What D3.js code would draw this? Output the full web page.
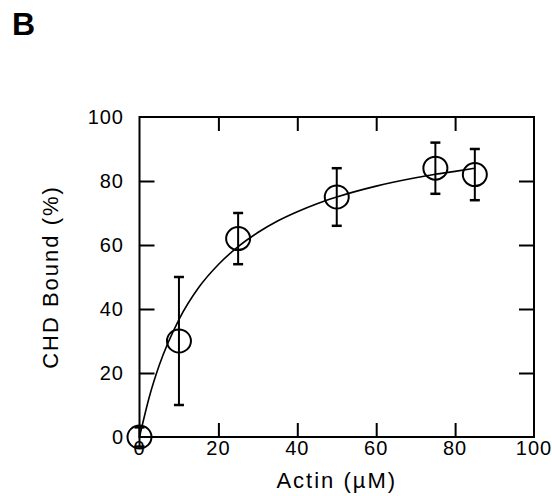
<!DOCTYPE html>
<html>
<head>
<meta charset="utf-8">
<script src="https://cdn.jsdelivr.net/npm/d3@7"></script>
<style>
  body { margin: 0; background: #fff; }
  text { font-family: "Liberation Sans", Arial, sans-serif; fill: #000; }
</style>
</head>
<body>
<div id="chart"></div>
<script>
// measured points (actin uM, % bound, error)
const actin = [0, 10, 25, 50, 75, 85];
const bound = [0, 30, 62, 75, 84, 82];
const errs = [3, 20, 8, 9, 8, 8];

// fitted curve
const fitX = [0, 2.5, 5, 10, 15, 20, 25, 30, 35, 40, 45, 50, 60, 70, 75, 80, 85];
const fitY = [0, 12.6, 22.4, 36.7, 46.7, 53.9, 59.5, 63.9, 67.5, 70.4, 72.9, 75, 78.4, 81, 82.1, 83, 84];

const xTicks = [0, 20, 40, 60, 80, 100];
const yTicks = [0, 20, 40, 60, 80, 100];

const width = 552, height = 496;
const pLeft = 139.5, pRight = 534, pTop = 117, pBottom = 437;

const svg = d3.select("#chart").append("svg")
    .attr("width", width)
    .attr("height", height);

const x = d3.scaleLinear().domain([0, 100]).range([pLeft, pRight]);
const y = d3.scaleLinear().domain([0, 100]).range([pBottom, pTop]);

// panel letter
svg.append("text")
    .attr("x", 12).attr("y", 35)
    .style("font-size", "32px").style("font-weight", "bold")
    .text("B");

// inward ticks on all four sides
const tickLen = 14;
svg.append("g").attr("transform", `translate(0,${pBottom})`)
    .call(d3.axisTop(x).tickValues(xTicks.slice(1, -1)).tickSize(tickLen).tickFormat(""))
    .call(g => g.select(".domain").remove());
svg.append("g").attr("transform", `translate(0,${pTop})`)
    .call(d3.axisBottom(x).tickValues(xTicks.slice(1, -1)).tickSize(tickLen).tickFormat(""))
    .call(g => g.select(".domain").remove());
svg.append("g").attr("transform", `translate(${pLeft},0)`)
    .call(d3.axisRight(y).tickValues(yTicks.slice(1, -1)).tickSize(tickLen + 1).tickFormat(""))
    .call(g => g.select(".domain").remove());
svg.append("g").attr("transform", `translate(${pRight},0)`)
    .call(d3.axisLeft(y).tickValues(yTicks.slice(1, -1)).tickSize(tickLen + 1).tickFormat(""))
    .call(g => g.select(".domain").remove());
svg.selectAll(".tick line").attr("stroke", "#000").attr("stroke-width", 2);

// frame
svg.append("rect")
    .attr("x", pLeft).attr("y", pTop)
    .attr("width", pRight - pLeft).attr("height", pBottom - pTop)
    .attr("fill", "none").attr("stroke", "#000").attr("stroke-width", 2);

// tick labels
svg.selectAll(".xl").data(xTicks).enter().append("text")
    .attr("x", d => x(d)).attr("y", pBottom + 18)
    .attr("text-anchor", "middle")
    .style("font-size", "20px").style("letter-spacing", "1px")
    .text(d => d);
svg.selectAll(".yl").data(yTicks).enter().append("text")
    .attr("x", 124).attr("y", d => y(d) + 7)
    .attr("text-anchor", "end")
    .style("font-size", "20px").style("letter-spacing", "1px")
    .text(d => d);

// axis titles
svg.append("text")
    .attr("x", x(50)).attr("y", 488)
    .attr("text-anchor", "middle")
    .style("font-size", "22px").style("letter-spacing", "2px")
    .text("Actin (\u00b5M)");
svg.append("text")
    .attr("transform", `translate(58,${(pTop + pBottom) / 2}) rotate(-90)`)
    .attr("text-anchor", "middle")
    .style("font-size", "22px").style("letter-spacing", "2px")
    .text("CHD Bound (%)");

// fit curve
const fit = fitX.map((d, i) => [d, fitY[i]]);
svg.append("path")
    .datum(fit)
    .attr("fill", "none").attr("stroke", "#000").attr("stroke-width", 1.6)
    .attr("d", d3.line().x(d => x(d[0])).y(d => y(d[1])).curve(d3.curveMonotoneX));

// error bars + circles
const pts = actin.map((d, i) => ({ a: d, b: bound[i], e: errs[i] }));
const pg = svg.selectAll(".pt").data(pts).enter().append("g");
pg.append("line")
    .attr("x1", d => x(d.a)).attr("x2", d => x(d.a))
    .attr("y1", d => y(d.b + d.e)).attr("y2", d => y(d.b - d.e))
    .attr("stroke", "#000").attr("stroke-width", 2);
pg.selectAll(".cap").data(d => [d.b + d.e, d.b - d.e].map(v => ({ a: d.a, v })))
    .enter().append("line")
    .attr("x1", d => x(d.a) - 5).attr("x2", d => x(d.a) + 5)
    .attr("y1", d => y(d.v)).attr("y2", d => y(d.v))
    .attr("stroke", "#000").attr("stroke-width", 2.5);
pg.append("ellipse")
    .attr("cx", d => x(d.a)).attr("cy", d => y(d.b))
    .attr("rx", 12).attr("ry", 11.5)
    .attr("fill", "none").attr("stroke", "#000").attr("stroke-width", 2);
</script>
</body>
</html>
